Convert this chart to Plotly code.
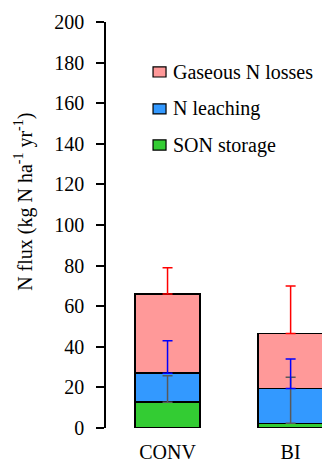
import numpy as np
import plotly.graph_objects as go

categories = ["CONV", "BI"]
son_storage = [12.7, 2.3]
n_leaching = [14.3, 17.1]
gaseous_losses = [39.0, 27.2]
son_err = [13.0, 22.7]
leach_err = [16.0, 14.6]
gas_err = [13.0, 23.4]

series = [
    ("SON storage", son_storage, son_err, "#33CC33", "#595959"),
    ("N leaching", n_leaching, leach_err, "#3399FF", "#0000FF"),
    ("Gaseous N losses", gaseous_losses, gas_err, "#FF9999", "#FF0000"),
]

FONT = "Liberation Serif"
FS = 20
fig = go.Figure()
bottom = np.zeros(len(categories))
tops = []
for name, vals, errs, col, ecol in series:
    fig.add_trace(go.Bar(
        x=categories, y=vals, name=name, marker_color=col,
        marker_line_color="black", marker_line_width=1.5, width=0.53,
        showlegend=False,
    ))
    bottom = bottom + np.array(vals)
    tops.append((bottom.copy(), errs, ecol))

for top, errs, ecol in tops:
    fig.add_trace(go.Scatter(
        x=categories, y=top, mode="markers", marker=dict(opacity=0, size=1),
        showlegend=False, hoverinfo="skip",
        error_y=dict(type="data", array=errs, arrayminus=[0] * len(errs),
                     symmetric=False, color=ecol, thickness=1.5, width=5),
    ))

fig.update_layout(
    template="none",
    width=322, height=451,
    margin=dict(l=98, r=0, t=14, b=31),
    barmode="stack",
    plot_bgcolor="white", paper_bgcolor="white",
    showlegend=False,
    xaxis=dict(range=[-0.5, 1.32], showline=False, ticks="", showgrid=False,
               zeroline=False, ticklabelstandoff=10,
               tickfont=dict(family=FONT, size=FS, color="black")),
    yaxis=dict(range=[0, 200], dtick=20, showline=True, linecolor="black",
               linewidth=1.5, ticks="outside", ticklen=8, tickwidth=1.5,
               tickcolor="black", showgrid=False, zeroline=False,
               ticklabelstandoff=8,
               tickfont=dict(family=FONT, size=FS, color="black")),
)

# manual legend (top entry first)
legend_rows_y = [0.877, 0.786, 0.697]
for (name, _, _, col, _), ly in zip(reversed(series), legend_rows_y):
    fig.add_shape(type="rect", xref="paper", yref="paper",
                  x0=0.21, x1=0.268, y0=ly - 0.0125, y1=ly + 0.0125,
                  fillcolor=col, line=dict(color="black", width=1.2))
    fig.add_annotation(text=name, xref="paper", yref="paper", x=0.29, y=ly,
                       xanchor="left", yanchor="middle", showarrow=False,
                       font=dict(family=FONT, size=FS, color="black"))

fig.add_annotation(
    text="N flux (kg N ha<sup>-1</sup> yr<sup>-1</sup>)",
    xref="paper", yref="paper", x=-0.366, y=0.557, xanchor="center", yanchor="middle",
    textangle=-90, showarrow=False, font=dict(family=FONT, size=FS, color="black"),
)

fig.write_html("out.html")
